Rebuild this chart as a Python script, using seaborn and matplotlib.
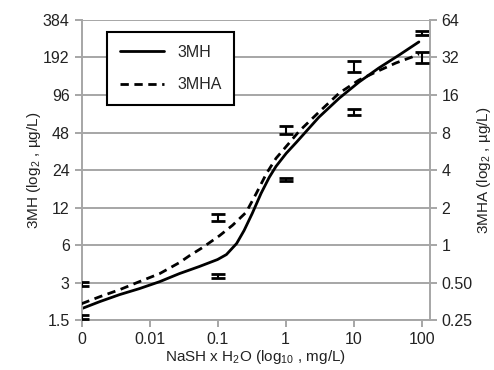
import numpy as np
import pandas as pd
import matplotlib
matplotlib.use("Agg")
import matplotlib.pyplot as plt
import seaborn as sns

# kurva hasil fit (x = log10 mg/L, titik -3 dipakai untuk "0")
curve_x_3mh = [-3.0, -2.73, -2.44, -2.15, -1.85, -1.56, -1.27, -1.0, -0.87, -0.72,
               -0.61, -0.49, -0.36, -0.24, -0.14, 0.01, 0.16, 0.49, 0.79, 1.08,
               1.37, 1.67, 1.96]
curve_y_3mh = [1.85, 2.11, 2.40, 2.68, 3.05, 3.54, 4.03, 4.59, 5.03, 6.17,
               7.85, 10.76, 15.6, 20.97, 25.7, 32.7, 40.1, 63.7, 90.6, 122,
               158, 201, 256]
curve_x_3mha = [-3.0, -2.73, -2.44, -2.15, -1.85, -1.56, -1.41, -1.22, -0.97, -0.78,
                -0.58, -0.43, -0.28, -0.14, 0.05, 0.20, 0.49, 0.79, 1.08, 1.33,
                1.62, 1.86, 1.96]
# 3MHA dalam satuan sumbu kanan
curve_y_3mha = [0.338, 0.385, 0.438, 0.508, 0.590, 0.723, 0.823, 0.955, 1.19, 1.44,
                1.83, 2.60, 3.76, 4.97, 6.56, 8.20, 11.66, 16.6, 21.1, 24.5,
                28.9, 32.3, 34.2]

# titik data + error bar
pt_x = [-3, -1, 0, 1, 2]
pt_3mh = [2.94, 9.99, 50.1, 164, 302]
err_3mh = [0.11, 0.57, 3.8, 16, 11]
pt_3mha = [0.265, 0.568, 3.37, 11.65, 32.3]
err_3mha = [0.01, 0.022, 0.093, 0.67, 3.2]

xtick_pos = [-3, -2, -1, 0, 1, 2]
xtick_lab = ["0", "0.01", "0.1", "1", "10", "100"]
left_ticks = [1.5, 3, 6, 12, 24, 48, 96, 192, 384]
right_ticks = [0.25, 0.5, 1, 2, 4, 8, 16, 32, 64]
right_lab = ["0.25", "0.50", "1", "2", "4", "8", "16", "32", "64"]

sns.set_style("white")
plt.rcParams['font.family'] = ['Liberation Sans', 'DejaVu Sans']
plt.rcParams['mathtext.fontset'] = 'custom'
plt.rcParams['mathtext.rm'] = 'Liberation Sans'
plt.rcParams['mathtext.it'] = 'Liberation Sans'

df_mh = pd.DataFrame({'x': curve_x_3mh, 'y': curve_y_3mh})
df_mha = pd.DataFrame({'x': curve_x_3mha, 'y': curve_y_3mha})

fig = plt.figure(figsize=(4.94, 3.70), dpi=100)
ax = fig.add_axes([0.165, 0.135, 0.705, 0.811])
ax2 = ax.twinx()

grid_c = '#a6a6a6'
ax.set_yscale('log', base=2)
ax2.set_yscale('log', base=2)
ax.set_ylim(1.5, 384)
ax2.set_ylim(0.25, 64)
ax.set_xlim(-3, 2.12)

for t in left_ticks:
    ax.axhline(t, color=grid_c, lw=1.4, zorder=0)

sns.lineplot(data=df_mh, x='x', y='y', ax=ax, color='black', lw=2.0,
             label='3MH', legend=False)
sns.lineplot(data=df_mha, x='x', y='y', ax=ax2, color='black', lw=2.0,
             linestyle=(0, (3, 2)), label='3MHA', legend=False)

ax.errorbar(pt_x, pt_3mh, yerr=err_3mh, fmt='none', ecolor='black',
            elinewidth=1.5, capsize=5, capthick=2, zorder=5)
ax2.errorbar(pt_x, pt_3mha, yerr=err_3mha, fmt='none', ecolor='black',
             elinewidth=1.5, capsize=5, capthick=2, zorder=5)

ax.set_xticks(xtick_pos)
ax.set_xticklabels(xtick_lab)
ax.set_yticks(left_ticks)
ax.set_yticklabels([f"{t:g}" for t in left_ticks])
ax.yaxis.set_minor_locator(matplotlib.ticker.NullLocator())
ax2.set_yticks(right_ticks)
ax2.set_yticklabels(right_lab)
ax2.yaxis.set_minor_locator(matplotlib.ticker.NullLocator())

for a in (ax, ax2):
    a.tick_params(axis='both', which='major', labelsize=11.5, color=grid_c,
                  length=5, width=1.4, direction='out', labelcolor='#222222')
    for s in a.spines.values():
        s.set_visible(False)
    a.set_xlabel('')
    a.set_ylabel('')
ax.tick_params(left=True, bottom=True)
ax2.tick_params(right=True)
ax.spines['left'].set_visible(True)
ax.spines['bottom'].set_visible(True)
ax2.spines['right'].set_visible(True)
for s in (ax.spines['left'], ax.spines['bottom'], ax2.spines['right']):
    s.set_color(grid_c)
    s.set_linewidth(1.4)

ax.set_xlabel(r'NaSH x H$_2$O (log$_{10}$ , mg/L)', fontsize=11, color='#222222', labelpad=1)
ax.set_ylabel(r'3MH (log$_2$ , µg/L)', fontsize=11, color='#222222', labelpad=0)
ax2.set_ylabel(r'3MHA (log$_2$ , µg/L)', fontsize=11, color='#222222', labelpad=2)

h1, l1 = ax.get_legend_handles_labels()
h2, l2 = ax2.get_legend_handles_labels()
leg = ax2.legend(h1 + h2, l1 + l2, loc='upper left', bbox_to_anchor=(0.073, 0.96),
                 borderaxespad=0, fontsize=11.5, handlelength=2.8, labelspacing=1.1,
                 borderpad=0.8, fancybox=False, framealpha=1, edgecolor='black')
leg.get_frame().set_linewidth(1.5)

fig.savefig('out.png', dpi=100)
